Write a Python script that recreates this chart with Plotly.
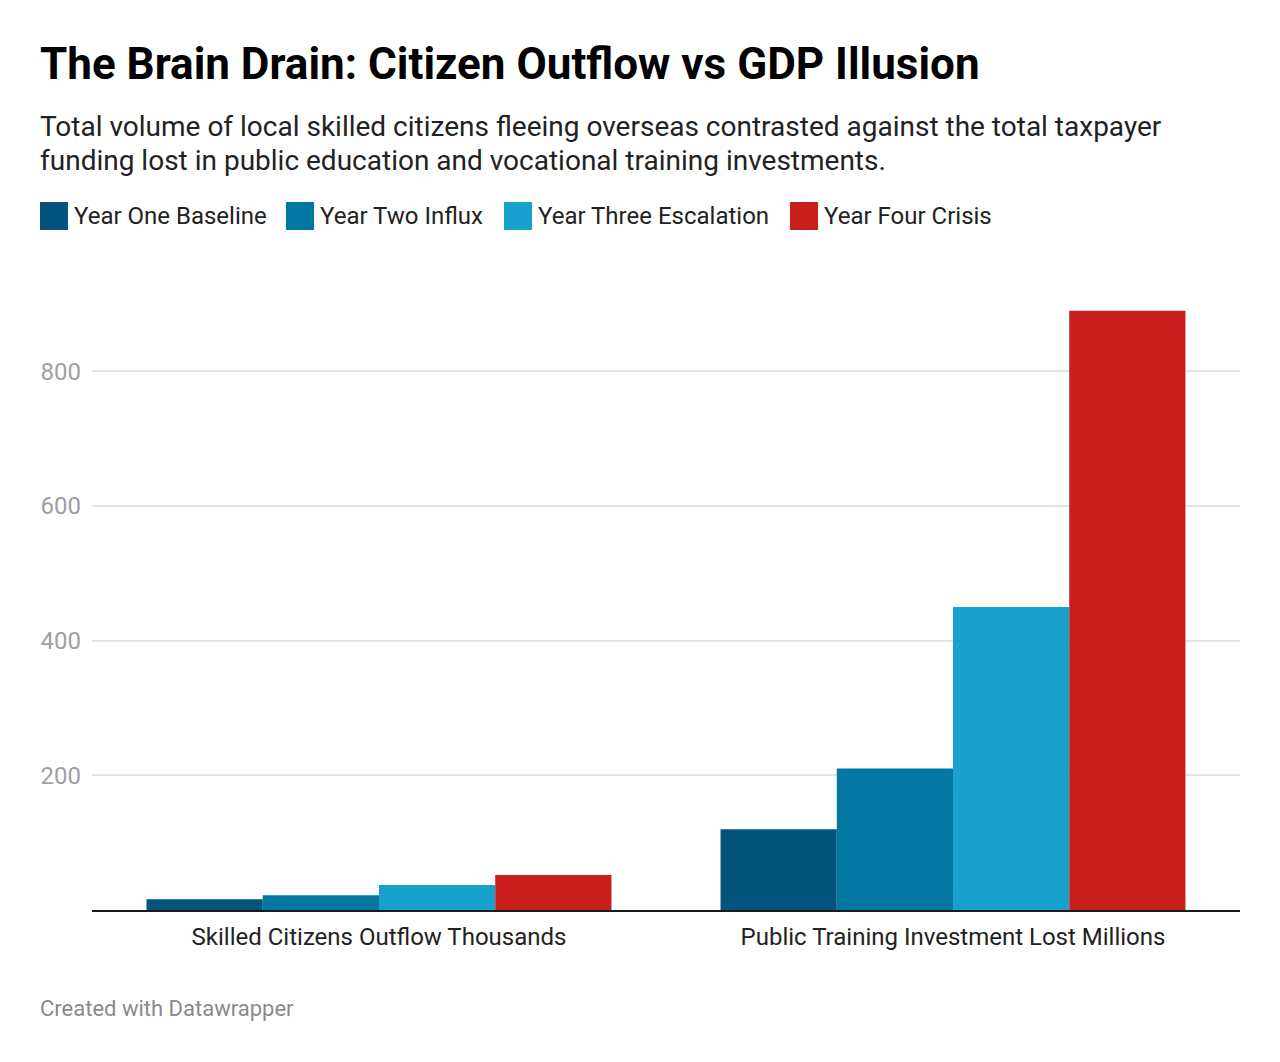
import plotly.graph_objects as go

# Data
categories = ["Skilled Citizens Outflow Thousands", "Public Training Investment Lost Millions"]
series_names = ["Year One Baseline", "Year Two Influx", "Year Three Escalation", "Year Four Crisis"]
year_one = [16, 120]
year_two = [22, 210]
year_three = [37, 450]
year_four = [52, 890]
y_ticks = [200, 400, 600, 800]

series_values = [year_one, year_two, year_three, year_four]
colors = ["#03537d", "#0277a2", "#19a1cd", "#c91e1e"]

# page body has an 8px margin, so the figure is drawn 8px in from the corner
OFF = 8
W, H = 1280 - OFF, 1062 - OFF
# plot area in screen pixels
X0, X1, Y0, Y1 = 92, 1240, 304, 910
ML, MR, MT, MB = X0 - OFF, 1280 - X1, Y0 - OFF, 1062 - Y1
PW, PH = X1 - X0, Y1 - Y0


def px(x):
    return (x - X0) / PW


def py(y):
    return (Y1 - y) / PH


fig = go.Figure()
for name, vals, col in zip(series_names, series_values, colors):
    fig.add_trace(go.Bar(x=categories, y=vals, name=name, marker_color=col,
                         marker_line_width=0, showlegend=False))

annotations = [
    dict(text="<b>The Brain Drain: Citizen Outflow vs GDP Illusion</b>",
         x=px(38), y=py(64), xanchor="left", yanchor="middle",
         font=dict(family="Roboto", size=44, color="#000000")),
    dict(text="Total volume of local skilled citizens fleeing overseas contrasted against the total taxpayer",
         x=px(38), y=py(127), xanchor="left", yanchor="middle",
         font=dict(family="Roboto", size=28, color="#222222")),
    dict(text="funding lost in public education and vocational training investments.",
         x=px(38), y=py(160), xanchor="left", yanchor="middle",
         font=dict(family="Roboto", size=28, color="#222222")),
    dict(text="Created with Datawrapper",
         x=px(38), y=py(1008), xanchor="left", yanchor="middle",
         font=dict(family="Roboto", size=22, color="#8a8a8a")),
]

# custom legend: coloured squares + labels
legend_x = [40, 286, 504, 790]
shapes = []
for name, col, lx in zip(series_names, colors, legend_x):
    shapes.append(dict(type="rect", xref="paper", yref="paper",
                       x0=px(lx), x1=px(lx + 28), y0=py(230), y1=py(202),
                       fillcolor=col, line_width=0))
    annotations.append(dict(text=name, x=px(lx + 32), y=py(216), xanchor="left", yanchor="middle",
                            font=dict(family="Roboto", size=24, color="#222222")))

for a in annotations:
    a.update(xref="paper", yref="paper", showarrow=False)

fig.update_layout(
    width=W, height=H,
    margin=dict(l=ML, r=MR, t=MT, b=MB),
    paper_bgcolor="white", plot_bgcolor="white",
    barmode="group", bargap=0.19, bargroupgap=0,
    font=dict(family="Roboto"),
    annotations=annotations, shapes=shapes,
    xaxis=dict(showline=True, linecolor="#1a1a1a", linewidth=2, showgrid=False,
               tickfont=dict(family="Roboto", size=24, color="#222222"), ticks="",
               ticklabelstandoff=4),
    yaxis=dict(range=[0, 900], tickvals=y_ticks, showgrid=True, gridcolor="#e3e3e3",
               gridwidth=1.5, zeroline=False, showline=False, ticks="",
               tickfont=dict(family="Roboto", size=24, color="#a0a0a0"),
               ticklabelstandoff=10),
)

fig.write_html("out.html")
